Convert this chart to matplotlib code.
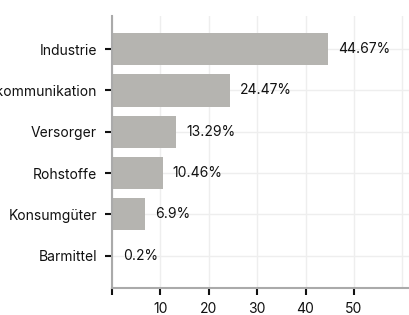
import matplotlib.pyplot as plt

categories = ["Industrie", "Telekommunikation", "Versorger", "Rohstoffe", "Konsumgüter", "Barmittel"]
values = [44.67, 24.47, 13.29, 10.46, 6.9, 0.2]
labels = ["44.67%", "24.47%", "13.29%", "10.46%", "6.9%", "0.2%"]
xticks = [0, 10, 20, 30, 40, 50]
xtick_labels = ["", "10", "20", "30", "40", "50"]

plt.rcParams["font.family"] = ["Inter", "DejaVu Sans"]

fig = plt.figure(figsize=(4.09, 3.15), dpi=100)
ax = fig.add_axes([0.274, 0.086, 0.726, 0.863])

y = list(range(len(categories)))
ax.barh(y, values, height=0.78, color="#b5b4b0", zorder=2)
for yi, v, lab in zip(y, values, labels):
    ax.text(v + 2, yi, lab, va="center", ha="left", fontsize=10, color="#111111")

ax.set_yticks(y)
ax.set_yticklabels(categories, fontsize=10, color="#111111")
ax.set_xticks(xticks)
ax.set_xticklabels(xtick_labels, fontsize=10, color="#111111")
ax.set_xticks([60], minor=True)
ax.tick_params(axis="x", which="minor", length=0)
ax.set_xlim(0, 61.4)
ax.set_ylim(5.78, -0.8)

ax.grid(True, which="both", color="#eeeeee", linewidth=1, zorder=0)
for s in ["top", "right"]:
    ax.spines[s].set_visible(False)
for s in ["left", "bottom"]:
    ax.spines[s].set_color("#aaaaaa")
    ax.spines[s].set_linewidth(1.5)
ax.tick_params(axis="both", which="major", length=5, width=1.5, color="#111111")
ax.tick_params(axis="y", pad=6)
ax.tick_params(axis="x", pad=5)

fig.savefig("out.png", dpi=100)
